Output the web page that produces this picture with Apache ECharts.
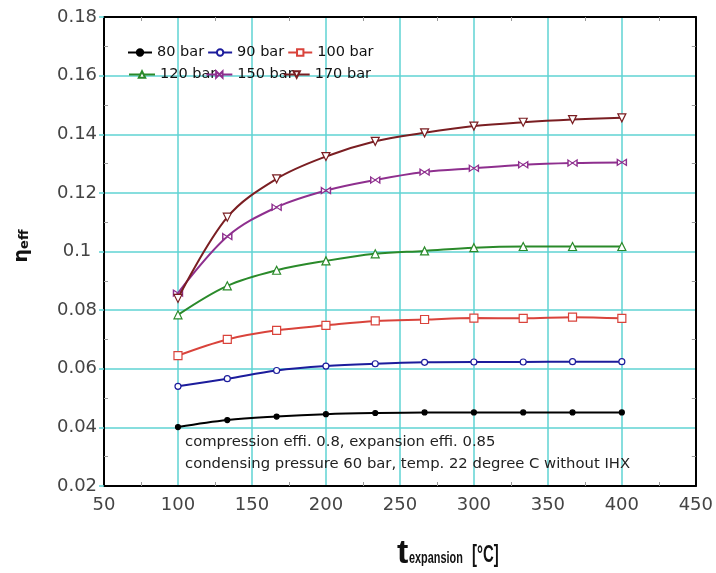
<!DOCTYPE html>
<html><head><meta charset="utf-8">
<script src="https://cdn.jsdelivr.net/npm/echarts@6/dist/echarts.min.js"></script>
<style>html,body{margin:0;padding:0;background:#fff}#c{width:716px;height:573px}</style>
</head><body><div id="c"></div>
<script>
const xTemps = [100, 133.33, 166.67, 200, 233.33, 266.67, 300, 333.33, 366.67, 400];
const bar80  = [0.0401, 0.0425, 0.0437, 0.0445, 0.0449, 0.0451, 0.0451, 0.0451, 0.0451, 0.0451];
const bar90  = [0.0540, 0.0566, 0.0594, 0.0609, 0.0617, 0.0622, 0.0623, 0.0623, 0.0624, 0.0624];
const bar100 = [0.0645, 0.0700, 0.0731, 0.0748, 0.0763, 0.0768, 0.0773, 0.0772, 0.0776, 0.0772];
const bar120 = [0.0784, 0.0883, 0.0936, 0.0968, 0.0992, 0.1002, 0.1013, 0.1017, 0.1017, 0.1017];
const bar150 = [0.0858, 0.1051, 0.1151, 0.1208, 0.1244, 0.1271, 0.1284, 0.1296, 0.1302, 0.1304];
const bar170 = [0.0840, 0.1117, 0.1248, 0.1324, 0.1376, 0.1405, 0.1428, 0.1441, 0.1450, 0.1456];
const seriesNames = ['80 bar', '90 bar', '100 bar', '120 bar', '150 bar', '170 bar'];
const xTicks = [50, 100, 150, 200, 250, 300, 350, 400, 450];
const yTicks = [0.02, 0.04, 0.06, 0.08, 0.1, 0.12, 0.14, 0.16, 0.18];
const note1 = 'compression effi. 0.8, expansion effi. 0.85';
const note2 = 'condensing pressure 60 bar, temp. 22 degree C without IHX';
const xTitleMain = 't', xTitleSub = 'expansion', xTitleUnit = '[°C]';
const yTitleMain = 'η', yTitleSub = 'eff';

const FONT = 'DejaVu Sans, sans-serif';
const BOLD = 'Liberation Sans, Arial, sans-serif';
const bowtie = 'path://M0,0 L10,5 L10,0 L0,5 Z';
const styles = [
  {color: '#000000', symbol: 'circle', fill: '#000000', size: 5},
  {color: '#1c1c9c', symbol: 'circle', fill: '#ffffff', size: 6},
  {color: '#d9433b', symbol: 'rect', fill: '#ffffff', size: 8},
  {color: '#2a8a2a', symbol: 'triangle', fill: '#ffffff', size: 8},
  {color: '#8e2f8e', symbol: bowtie, fill: '#ffffff', size: [9, 6]},
  {color: '#7a1e22', symbol: 'path://M0,0 L10,0 L5,9 Z', fill: '#ffffff', size: 8}
];
const allData = [bar80, bar90, bar100, bar120, bar150, bar170];

const series = allData.map((vals, i) => ({
  name: seriesNames[i],
  type: 'line',
  smooth: 0.35,
  data: vals.map((v, j) => [xTemps[j], v]),
  symbol: styles[i].symbol,
  symbolSize: styles[i].size,
  showAllSymbol: true,
  lineStyle: {color: styles[i].color, width: 2},
  itemStyle: {color: styles[i].fill, borderColor: styles[i].color, borderWidth: 1.2},
  emphasis: {disabled: true},
  z: 3 + i
}));

const legendText = {fontFamily: FONT, fontSize: 14.5, color: '#111'};
const minor = {show: true, splitNumber: 2, length: 4, lineStyle: {color: '#999'}};
const frameAxis = {
  axisLine: {show: true, lineStyle: {color: '#000', width: 2}},
  axisTick: {show: false, inside: true}, axisLabel: {show: false}, splitLine: {show: false},
  minorTick: minor
};
const chart = echarts.init(document.getElementById('c'), null, {renderer: 'canvas'});
chart.setOption({
  animation: false,
  backgroundColor: '#ffffff',
  grid: {left: 104, right: 20, top: 17, bottom: 87},
  legend: [
    {data: seriesNames.slice(0, 3), left: 122, top: 40, itemWidth: 24, itemHeight: 8, itemGap: 3, textStyle: legendText},
    {data: seriesNames.slice(3), left: 123, top: 62, itemWidth: 26, itemHeight: 8, itemGap: -11, textStyle: legendText}
  ],
  xAxis: [{
    type: 'value', min: xTicks[0], max: xTicks[xTicks.length - 1], interval: 50,
    axisLine: {show: true, lineStyle: {color: '#000', width: 2}},
    axisTick: {show: false, inside: true},
    minorTick: minor,
    splitLine: {show: true, lineStyle: {color: '#5fd3d3', width: 1.5}},
    axisLabel: {fontFamily: FONT, fontSize: 18, color: '#444', margin: 10}
  }, Object.assign({type: 'value', position: 'top', min: xTicks[0], max: xTicks[xTicks.length - 1], interval: 50}, frameAxis)],
  yAxis: [{
    type: 'value', min: yTicks[0], max: yTicks[yTicks.length - 1], interval: 0.02,
    axisLine: {show: true, lineStyle: {color: '#000', width: 2}},
    axisTick: {show: true, length: 5, lineStyle: {color: '#5fd3d3', width: 1.5}},
    splitLine: {show: true, lineStyle: {color: '#5fd3d3', width: 1.5}},
    axisLabel: {fontFamily: FONT, fontSize: 18, color: '#444', margin: 27, align: 'center',
      formatter: v => { const r = Math.round(v * 100) / 100; return String(r); }}
  }, Object.assign({type: 'value', position: 'right', min: yTicks[0], max: yTicks[yTicks.length - 1], interval: 0.02}, frameAxis),
     Object.assign({type: 'value', position: 'left', min: yTicks[0], max: yTicks[yTicks.length - 1], interval: 0.02}, frameAxis)],
  graphic: [
    {type: 'text', left: 185, top: 435, z: 10, style: {text: note1, font: '14.8px ' + FONT, fill: '#222'}},
    {type: 'text', left: 185, top: 457, z: 10, style: {text: note2, font: '14.8px ' + FONT, fill: '#222'}},
    {type: 'text', x: 397, y: 554, z: 10, style: {text: xTitleMain, font: 'bold 34px ' + BOLD, fill: '#111', align: 'left', verticalAlign: 'middle'}},
    {type: 'text', x: 409, y: 559, scaleX: 0.68, z: 10, style: {text: xTitleSub, font: 'bold 16px ' + BOLD, fill: '#111', align: 'left', verticalAlign: 'middle'}},
    {type: 'text', x: 472, y: 555, scaleX: 0.62, z: 10, style: {text: xTitleUnit, font: 'bold 24px ' + BOLD, fill: '#111', align: 'left', verticalAlign: 'middle'}},
    {type: 'text', x: 22, y: 246, rotation: Math.PI / 2, z: 10, style: {
      text: '{e|' + yTitleMain + '}{f|' + yTitleSub + '}', align: 'center', verticalAlign: 'middle',
      rich: {
        e: {font: 'bold 19px ' + FONT, fill: '#111'},
        f: {font: 'bold 13px ' + FONT, fill: '#111', padding: [5, 0, 0, 0]}
      }}}
  ],
  series: series
});
</script></body></html>
